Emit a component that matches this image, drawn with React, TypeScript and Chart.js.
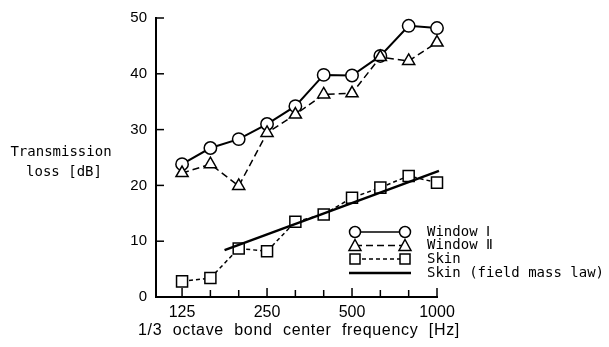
import React, { useEffect, useRef } from "react";
import { Chart, registerables } from "chart.js";

Chart.register(...registerables);

// 1/3 octave band centre frequencies [Hz]
const bands = ["125", "160", "200", "250", "315", "400", "500", "630", "800", "1000"];
const labelledBands = ["125", "250", "500", "1000"];

// Transmission loss [dB]
const windowI = [23.8, 26.7, 28.3, 31.0, 34.2, 39.8, 39.7, 43.2, 48.6, 48.2];
const windowII = [22.2, 23.8, 19.9, 29.4, 32.7, 36.3, 36.5, 43.0, 42.3, 45.6];
const skin = [2.8, 3.4, 8.7, 8.2, 13.5, 14.8, 17.8, 19.6, 21.7, 20.5];

// Field mass law line (band-index position, dB)
const massLawPos = [1.5, 9.07];
const massLawDb = [8.4, 22.6];

const yTicks = [0, 10, 20, 30, 40, 50];

const legendItems = [
  { text: "Window \u2160", marker: "circle", dash: [] as number[] },
  { text: "Window \u2161", marker: "triangle", dash: [7, 4] },
  { text: "Skin", marker: "rect", dash: [4, 3] },
  { text: "Skin (field mass law)", marker: "none", dash: [] as number[] },
];

function drawMarker(ctx: CanvasRenderingContext2D, kind: string, x: number, y: number) {
  ctx.save();
  ctx.fillStyle = "#fff";
  ctx.strokeStyle = "#000";
  ctx.lineWidth = 1.5;
  ctx.setLineDash([]);
  ctx.beginPath();
  if (kind === "circle") {
    ctx.arc(x, y, 5.5, 0, Math.PI * 2);
  } else if (kind === "triangle") {
    ctx.moveTo(x, y - 6);
    ctx.lineTo(x + 6, y + 5);
    ctx.lineTo(x - 6, y + 5);
    ctx.closePath();
  } else if (kind === "rect") {
    ctx.rect(x - 5, y - 5, 10, 10);
  }
  ctx.fill();
  ctx.stroke();
  ctx.restore();
}

const decorPlugin = {
  id: "decor",
  beforeDatasetsDraw(chart: any) {
    const ctx = chart.ctx as CanvasRenderingContext2D;
    const xs = chart.scales.x;
    const ys = chart.scales.y;
    const area = chart.chartArea;
    ctx.save();
    ctx.strokeStyle = "#000";
    ctx.lineWidth = 1.5;
    bands.forEach((_, i) => {
      const px = xs.getPixelForValue(i);
      ctx.beginPath();
      ctx.moveTo(px, area.bottom);
      ctx.lineTo(px, area.bottom - (labelledBands.includes(bands[i]) ? 9 : 7));
      ctx.stroke();
    });
    yTicks.forEach((v) => {
      const py = ys.getPixelForValue(v);
      ctx.beginPath();
      ctx.moveTo(area.left, py);
      ctx.lineTo(area.left + 8, py);
      ctx.stroke();
    });
    ctx.restore();
  },
  afterDraw(chart: any) {
    const ctx = chart.ctx as CanvasRenderingContext2D;
    ctx.save();
    ctx.fillStyle = "#000";
    // y axis title
    ctx.font = "14px 'DejaVu Sans Mono'";
    ctx.textAlign = "center";
    ctx.textBaseline = "middle";
    ctx.fillText("Transmission", 61, 152);
    ctx.fillText("loss [dB]", 64, 172);
    // x axis title
    ctx.font = "16px 'Liberation Sans'";
    (ctx as any).letterSpacing = "0.7px";
    ctx.fillText("1/3  octave  bond  center  frequency  [Hz]", 299, 331);
    (ctx as any).letterSpacing = "0px";
    // legend
    const x0 = 355;
    const x1 = 405;
    const rows = [232, 245.5, 259, 273];
    legendItems.forEach((it, k) => {
      const y = rows[k];
      ctx.save();
      ctx.strokeStyle = "#000";
      ctx.lineWidth = it.marker === "none" ? 2.5 : 1.5;
      ctx.setLineDash(it.dash);
      ctx.beginPath();
      ctx.moveTo(it.marker === "none" ? x0 - 6 : x0, y);
      ctx.lineTo(it.marker === "none" ? x1 + 6 : x1, y);
      ctx.stroke();
      ctx.restore();
      if (it.marker !== "none") {
        drawMarker(ctx, it.marker, x0, y);
        drawMarker(ctx, it.marker, x1, y);
      }
      ctx.font = "14px 'DejaVu Sans Mono'";
      ctx.textAlign = "left";
      ctx.textBaseline = "middle";
      ctx.fillText(it.text, 427, y);
    });
    ctx.restore();
  },
};

export default function App() {
  const ref = useRef<HTMLCanvasElement | null>(null);
  useEffect(() => {
    if (!ref.current) return;
    const toPts = (arr: number[]) => arr.map((v, i) => ({ x: i, y: v }));
    const chart = new Chart(ref.current, {
      type: "line",
      data: {
        datasets: [
          {
            label: "Skin (field mass law)",
            data: massLawPos.map((p, i) => ({ x: p, y: massLawDb[i] })),
            borderColor: "#000",
            borderWidth: 2.5,
            pointRadius: 0,
            clip: false,
          },
          {
            label: "Skin",
            data: toPts(skin),
            borderColor: "#000",
            borderWidth: 1.5,
            borderDash: [4, 3],
            pointStyle: "rect",
            pointRadius: 7.8,
            pointBackgroundColor: "#fff",
            pointBorderColor: "#000",
            pointBorderWidth: 1.5,
            clip: false,
          },
          {
            label: "Window II",
            data: toPts(windowII),
            borderColor: "#000",
            borderWidth: 1.5,
            borderDash: [7, 4],
            pointStyle: "triangle",
            pointRadius: 7,
            pointBackgroundColor: "#fff",
            pointBorderColor: "#000",
            pointBorderWidth: 1.5,
            clip: false,
          },
          {
            label: "Window I",
            data: toPts(windowI),
            borderColor: "#000",
            borderWidth: 2,
            pointStyle: "circle",
            pointRadius: 6.2,
            pointBackgroundColor: "#fff",
            pointBorderColor: "#000",
            pointBorderWidth: 1.5,
            clip: false,
          },
        ],
      },
      options: {
        animation: false,
        responsive: true,
        maintainAspectRatio: false,
        layout: { padding: { left: 0, top: 16, right: 172, bottom: 0 } },
        plugins: { legend: { display: false }, tooltip: { enabled: false } },
        scales: {
          x: {
            type: "linear",
            min: -0.92,
            max: 9,
            afterBuildTicks: (s: any) => {
              s.ticks = bands.map((_, i) => ({ value: i }));
            },
            afterFit: (s: any) => {
              s.height = 50;
            },
            ticks: {
              autoSkip: false,
              maxRotation: 0,
              padding: 6,
              color: "#000",
              font: { family: "'Liberation Sans'", size: 16 },
              callback: (v: any) => {
                const b = bands[Math.round(Number(v))];
                return labelledBands.includes(b) ? b : "";
              },
            },
            grid: { display: false, drawTicks: false },
            border: { display: true, color: "#000", width: 2 },
          },
          y: {
            min: 0,
            max: 50,
            afterBuildTicks: (s: any) => {
              s.ticks = yTicks.map((v) => ({ value: v }));
            },
            afterFit: (s: any) => {
              s.width = 156;
            },
            ticks: {
              padding: 9,
              color: "#000",
              font: { family: "'Liberation Sans'", size: 15 },
            },
            grid: { display: false, drawTicks: false },
            border: { display: true, color: "#000", width: 2 },
          },
        },
      },
      plugins: [decorPlugin],
    });
    return () => chart.destroy();
  }, []);
  return (
    <div style={{ position: "absolute", left: 0, top: 0, width: 609, height: 347, background: "#fff" }}>
      <canvas ref={ref} />
    </div>
  );
}
